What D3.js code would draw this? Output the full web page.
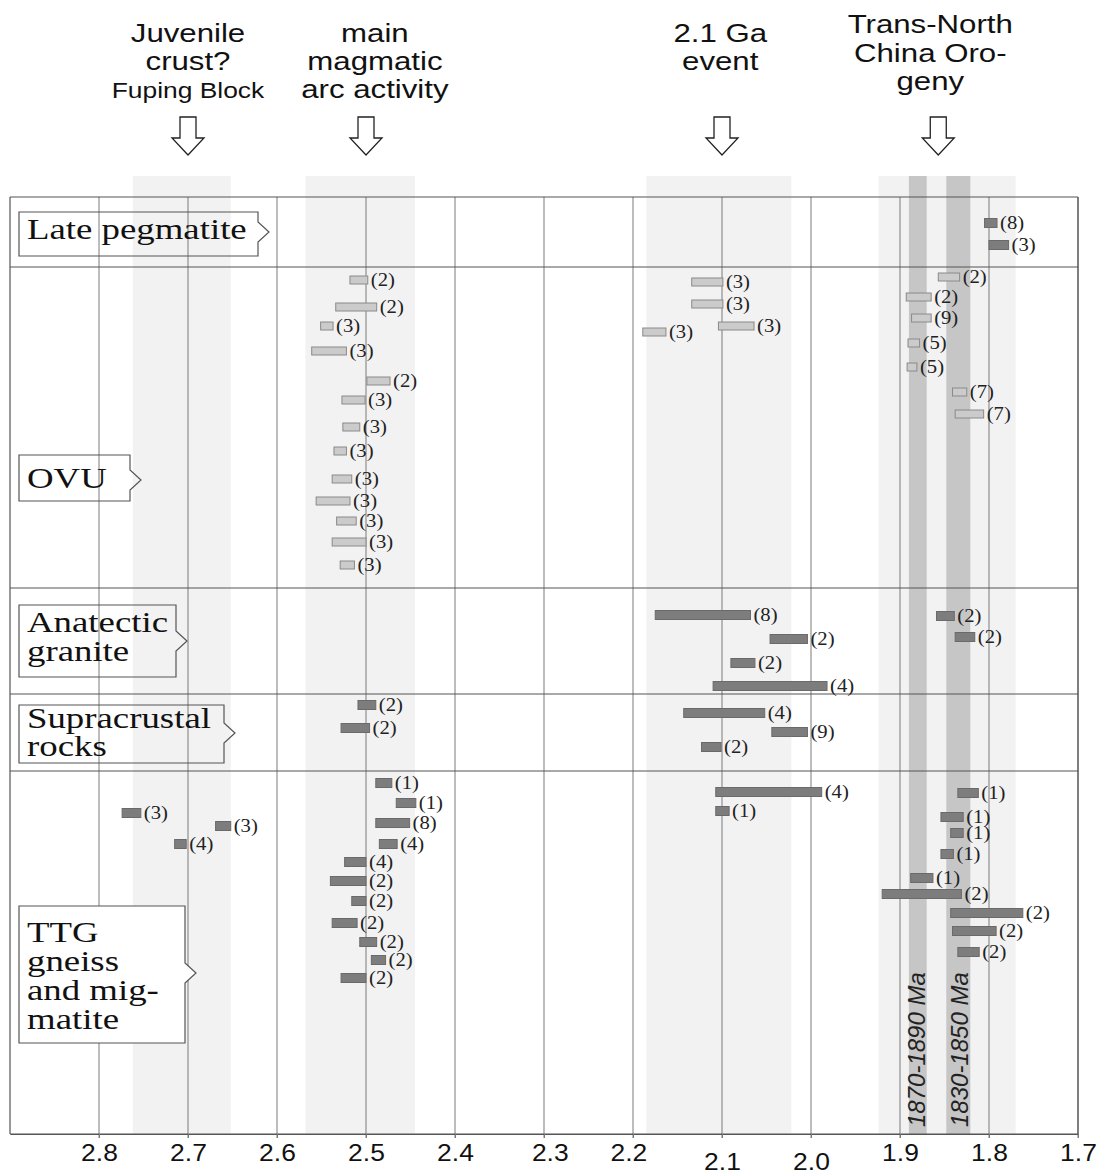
<!DOCTYPE html>
<html><head><meta charset="utf-8">
<script src="https://cdn.jsdelivr.net/npm/d3@7"></script>
<style>body{margin:0;background:#fff}svg{display:block}</style>
</head><body><svg id="c" width="1108" height="1174"></svg>
<script>
// ---------- DATA ----------
const tickValues = [2.8, 2.7, 2.6, 2.5, 2.4, 2.3, 2.2, 2.1, 2.0, 1.9, 1.8, 1.7];
const tickLabels = ["2.8","2.7","2.6","2.5","2.4","2.3","2.2","2.1","2.0","1.9","1.8","1.7"];

const sectionNames = [["Late pegmatite"], ["OVU"], ["Anatectic", "granite"], ["Supracrustal", "rocks"], ["TTG", "gneiss", "and mig-", "matite"]];
const sectionBreaks = [0, 7.0, 39.1, 49.7, 57.4, 93.7]; // lane units

const eventLabels = [["Juvenile", "crust?", "Fuping Block"], ["main", "magmatic", "arc activity"], ["2.1 Ga", "event"], ["Trans-North", "China Oro-", "geny"]];
const eventTextAge = [2.70, 2.49, 2.102, 1.866];
const eventArrowAge = [2.70, 2.50, 2.100, 1.857];

const lightBands = [[2.762, 2.652], [2.568, 2.445], [2.185, 2.022], [1.924, 1.770]];
const darkBands = [[1.890, 1.870], [1.848, 1.821]];
const darkBandLabels = ["1870-1890 Ma", "1830-1850 Ma"];

// [from (Ga), to (Ga), lane, n]
const latePegmatite = [[1.805, 1.791, 2.6, 8], [1.800, 1.778, 4.8, 3]];
const ovu = [
  [2.518, 2.498, 8.3, 2], [2.534, 2.488, 11.0, 2], [2.551, 2.537, 12.9, 3], [2.561, 2.522, 15.4, 3],
  [2.499, 2.473, 18.4, 2], [2.527, 2.501, 20.3, 3], [2.526, 2.507, 23.0, 3], [2.536, 2.522, 25.4, 3],
  [2.538, 2.516, 28.2, 3], [2.556, 2.518, 30.4, 3], [2.533, 2.511, 32.4, 3], [2.538, 2.500, 34.5, 3],
  [2.529, 2.513, 36.8, 3],
  [2.134, 2.099, 8.5, 3], [2.134, 2.099, 10.7, 3], [2.104, 2.064, 12.9, 3], [2.189, 2.163, 13.5, 3],
  [1.857, 1.833, 8.0, 2], [1.893, 1.865, 10.0, 2], [1.887, 1.865, 12.1, 9], [1.891, 1.878, 14.6, 5],
  [1.892, 1.881, 17.0, 5], [1.841, 1.825, 19.5, 7], [1.838, 1.806, 21.7, 7]
];
const anatecticGranite = [
  [2.175, 2.068, 41.8, 8], [2.046, 2.004, 44.2, 2], [2.090, 2.063, 46.6, 2], [2.110, 1.982, 48.9, 4],
  [1.859, 1.839, 41.9, 2], [1.838, 1.816, 44.0, 2]
];
const supracrustal = [
  [2.509, 2.489, 50.8, 2], [2.528, 2.496, 53.1, 2],
  [2.143, 2.052, 51.6, 4], [2.044, 2.004, 53.5, 9], [2.123, 2.101, 55.0, 2]
];
const ttg = [
  [2.774, 2.753, 61.6, 3], [2.669, 2.652, 62.9, 3], [2.715, 2.702, 64.7, 4],
  [2.489, 2.471, 58.6, 1], [2.466, 2.444, 60.6, 1], [2.489, 2.451, 62.6, 8], [2.485, 2.465, 64.7, 4],
  [2.524, 2.500, 66.5, 4], [2.540, 2.500, 68.4, 2], [2.516, 2.500, 70.4, 2], [2.538, 2.510, 72.6, 2],
  [2.507, 2.488, 74.5, 2], [2.494, 2.478, 76.3, 2], [2.528, 2.500, 78.1, 2],
  [2.107, 1.988, 59.5, 4], [2.107, 2.092, 61.4, 1],
  [1.835, 1.812, 59.6, 1], [1.854, 1.829, 62.0, 1], [1.843, 1.829, 63.6, 1], [1.854, 1.840, 65.7, 1],
  [1.888, 1.863, 68.1, 1], [1.920, 1.831, 69.7, 2], [1.843, 1.762, 71.6, 2], [1.841, 1.792, 73.4, 2],
  [1.835, 1.811, 75.5, 2]
];

// ---------- DRAWING ----------
const svg = d3.select("#c");
const x = d3.scaleLinear().domain([2.9, 1.7]).range([10, 1078]);
const y = d3.scaleLinear().domain([0, 93.7]).range([197, 1134]);
const SANS = "'Liberation Sans', Arial, sans-serif";
const SERIF = "'Liberation Serif', 'Times New Roman', serif";
const bandTop = 176, plotBottom = y(93.7);

// light bands
svg.append("g").selectAll("rect").data(lightBands).join("rect")
  .attr("x", d => x(d[0])).attr("width", d => x(d[1]) - x(d[0]))
  .attr("y", bandTop).attr("height", plotBottom - bandTop)
  .attr("fill", "#f2f2f2");
// dark bands
svg.append("g").selectAll("rect").data(darkBands).join("rect")
  .attr("x", d => x(d[0])).attr("width", d => x(d[1]) - x(d[0]))
  .attr("y", bandTop).attr("height", plotBottom - bandTop)
  .attr("fill", "#c6c6c6");

// vertical gridlines
svg.append("g").selectAll("line").data(tickValues).join("line")
  .attr("x1", d => x(d)).attr("x2", d => x(d))
  .attr("y1", y(0)).attr("y2", plotBottom + 4)
  .attr("stroke", "#7a7a7a").attr("stroke-width", 1);

// horizontal section lines + frame
svg.append("g").selectAll("line").data(sectionBreaks).join("line")
  .attr("x1", x(2.9)).attr("x2", x(1.7))
  .attr("y1", d => y(d)).attr("y2", d => y(d))
  .attr("stroke", "#555").attr("stroke-width", 1.2);
svg.append("line").attr("x1", x(2.9)).attr("x2", x(2.9)).attr("y1", y(0)).attr("y2", plotBottom)
  .attr("stroke", "#555").attr("stroke-width", 1.2);
svg.append("line").attr("x1", x(1.7)).attr("x2", x(1.7)).attr("y1", y(0)).attr("y2", plotBottom)
  .attr("stroke", "#555").attr("stroke-width", 1.2);

// rotated band labels
svg.append("g").selectAll("text").data(darkBands).join("text")
  .attr("transform", d => `translate(${x(d[1]) - 2},${y(93.7) - 7}) rotate(-90)`)
  .attr("font-family", SANS).attr("font-style", "italic").attr("font-size", 24)
  .attr("fill", "#222").attr("text-anchor", "start")
  .text((d, i) => darkBandLabels[i]);

// section label boxes (callouts)
const boxes = [
  {r: 258, t: 212, b: 256, py: 232, base: [239], fill: "none"},
  {r: 130, t: 455, b: 501, py: 480, base: [488], fill: "none"},
  {r: 176, t: 605, b: 677, py: 641, base: [632, 661], fill: "none"},
  {r: 224, t: 705, b: 763, py: 733, base: [728, 756], fill: "none"},
  {r: 185, t: 906, b: 1043, py: 973, base: [942, 971, 1000, 1029], fill: "#fff"}
];
const bx = 19;
boxes.forEach((bd, i) => {
  svg.append("path")
    .attr("d", `M${bx},${bd.t}H${bd.r}V${bd.py - 10}L${bd.r + 11},${bd.py}L${bd.r},${bd.py + 10}V${bd.b}H${bx}Z`)
    .attr("fill", bd.fill).attr("stroke", "#555").attr("stroke-width", 1.2);
  sectionNames[i].forEach((line, j) => {
    svg.append("text")
      .attr("transform", `translate(27,${bd.base[j]}) scale(1.27,1)`)
      .attr("font-family", SERIF).attr("font-size", 29).attr("fill", "#111")
      .text(line);
  });
});

// bars
const groups = [
  {data: latePegmatite, light: false},
  {data: ovu, light: true},
  {data: anatecticGranite, light: false},
  {data: supracrustal, light: false},
  {data: ttg, light: false}
];
const gBars = svg.append("g");
groups.forEach(g => {
  const h = g.light ? 8 : 9;
  gBars.append("g").selectAll("rect").data(g.data).join("rect")
    .attr("x", d => x(d[0])).attr("width", d => x(d[1]) - x(d[0]))
    .attr("y", d => y(d[2]) - h / 2).attr("height", h)
    .attr("fill", g.light ? "#cbcbcb" : "#7d7d7d")
    .attr("stroke", g.light ? "#8a8a8a" : "#6a6a6a").attr("stroke-width", 1);
  gBars.append("g").selectAll("text").data(g.data).join("text")
    .attr("transform", d => `translate(${x(d[1]) + 3},${y(d[2]) + 6}) scale(1.15,1)`)
    .attr("font-family", SERIF).attr("font-size", 18).attr("fill", "#222")
    .text(d => `(${d[3]})`);
});

// event headers
const headerBase = [[42, 70, 98], [42, 70, 98], [42, 70], [33, 62, 90]];
eventLabels.forEach((lines, i) => {
  lines.forEach((line, j) => {
    const small = line === "Fuping Block";
    svg.append("text")
      .attr("transform", `translate(${x(eventTextAge[i])},${headerBase[i][j]}) scale(1.2,1)`)
      .attr("text-anchor", "middle").attr("font-family", SANS)
      .attr("font-size", small ? 22 : 26).attr("fill", "#111")
      .text(line);
  });
});
// hollow arrows
svg.append("g").selectAll("path").data(eventArrowAge).join("path")
  .attr("d", d => {
    const c = x(d);
    return `M${c - 8},117H${c + 8}V138H${c + 16}L${c},155L${c - 16},138H${c - 8}Z`;
  })
  .attr("fill", "#fff").attr("stroke", "#222").attr("stroke-width", 1.3);

// x axis
const axis = d3.axisBottom(x).tickValues(tickValues).tickSize(4).tickSizeOuter(0)
  .tickFormat((d, i) => tickLabels[i]);
const gAx = svg.append("g").attr("transform", `translate(0,${plotBottom})`).call(axis);
gAx.select(".domain").attr("stroke", "#555").attr("stroke-width", 1.2);
gAx.selectAll(".tick line").attr("stroke", "#7a7a7a");
gAx.selectAll(".tick text")
  .attr("font-family", SANS).attr("font-size", 23).attr("fill", "#111")
  .attr("dy", 0)
  .attr("y", d => (d === 2.1 || d === 2.0) ? 36 : 27)
  .attr("x", d => d === 2.3 ? 5 : (d === 2.2 ? -4 : 0))
  .attr("transform", "scale(1.15,1)");
</script></body></html>
